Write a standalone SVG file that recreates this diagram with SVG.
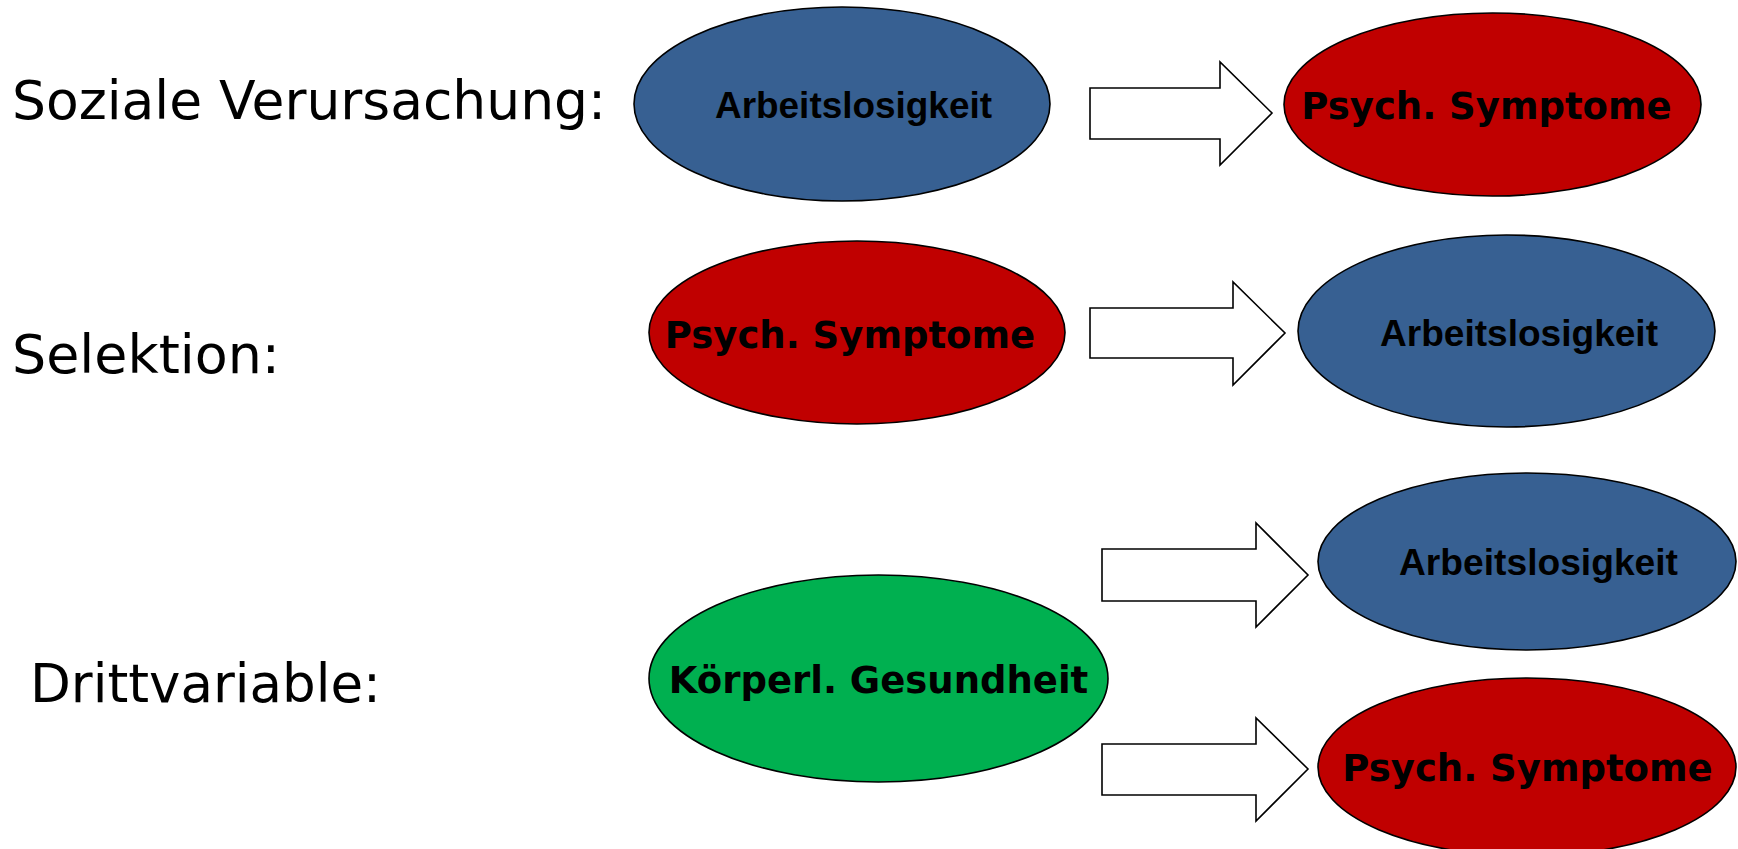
<svg xmlns="http://www.w3.org/2000/svg" width="1738" height="849" viewBox="0 0 1738 849">
<style>
.lbl{font-family:"DejaVu Sans","Verdana",sans-serif;font-size:53.5px;fill:#000}
.node{stroke:#000;stroke-width:1.6}
.blue{fill:#376092}
.red{fill:#C00000}
.green{fill:#00B050}
.ta{font-family:"Liberation Sans",Arial,sans-serif;font-weight:bold;font-size:37px;fill:#000;text-anchor:middle}
.tp{font-family:"DejaVu Sans",Verdana,sans-serif;font-weight:bold;font-size:37px;fill:#000;text-anchor:middle}
.arrow{fill:#fff;stroke:#000;stroke-width:1.6;stroke-linejoin:miter}
</style>
<rect width="1738" height="849" fill="#fff"/>
<g id="labels">
<text class="lbl" x="12" y="119" textLength="594" lengthAdjust="spacingAndGlyphs">Soziale Verursachung:</text>
<text class="lbl" x="12" y="373" textLength="268" lengthAdjust="spacingAndGlyphs">Selektion:</text>
<text class="lbl" x="30" y="702" textLength="351" lengthAdjust="spacingAndGlyphs">Drittvariable:</text>
</g>
<g id="connectors">
<polygon class="arrow" points="1090,88 1220,88 1220,62 1272,113 1220,165 1220,139 1090,139"/>
<polygon class="arrow" points="1090,308 1233,308 1233,282 1285,333 1233,385 1233,358 1090,358"/>
<polygon class="arrow" points="1102,549 1256,549 1256,523 1308,575 1256,627 1256,601 1102,601"/>
<polygon class="arrow" points="1102,744 1256,744 1256,718 1308,769 1256,821 1256,795 1102,795"/>
</g>
<g id="n1"><ellipse class="node blue" cx="842" cy="104" rx="208" ry="97"/><text class="ta" x="853.5" y="118" textLength="277" lengthAdjust="spacingAndGlyphs">Arbeitslosigkeit</text></g>
<g id="n2"><ellipse class="node red" cx="1492.5" cy="104.5" rx="208.5" ry="91.5"/><text class="tp" x="1486.5" y="119">Psych. Symptome</text></g>
<g id="n3"><ellipse class="node red" cx="857" cy="332.5" rx="208" ry="91.5"/><text class="tp" x="850" y="348">Psych. Symptome</text></g>
<g id="n4"><ellipse class="node blue" cx="1506.5" cy="331" rx="208.5" ry="96"/><text class="ta" x="1519" y="346" textLength="278" lengthAdjust="spacingAndGlyphs">Arbeitslosigkeit</text></g>
<g id="n5"><ellipse class="node green" cx="878.5" cy="678.5" rx="229.5" ry="103.5"/><text class="tp" x="878.5" y="693">Körperl. Gesundheit</text></g>
<g id="n6"><ellipse class="node blue" cx="1527" cy="561.5" rx="209" ry="88.5"/><text class="ta" x="1538.5" y="575" textLength="279" lengthAdjust="spacingAndGlyphs">Arbeitslosigkeit</text></g>
<g id="n7"><ellipse class="node red" cx="1527" cy="767" rx="209" ry="89"/><text class="tp" x="1527.5" y="781">Psych. Symptome</text></g>
</svg>
